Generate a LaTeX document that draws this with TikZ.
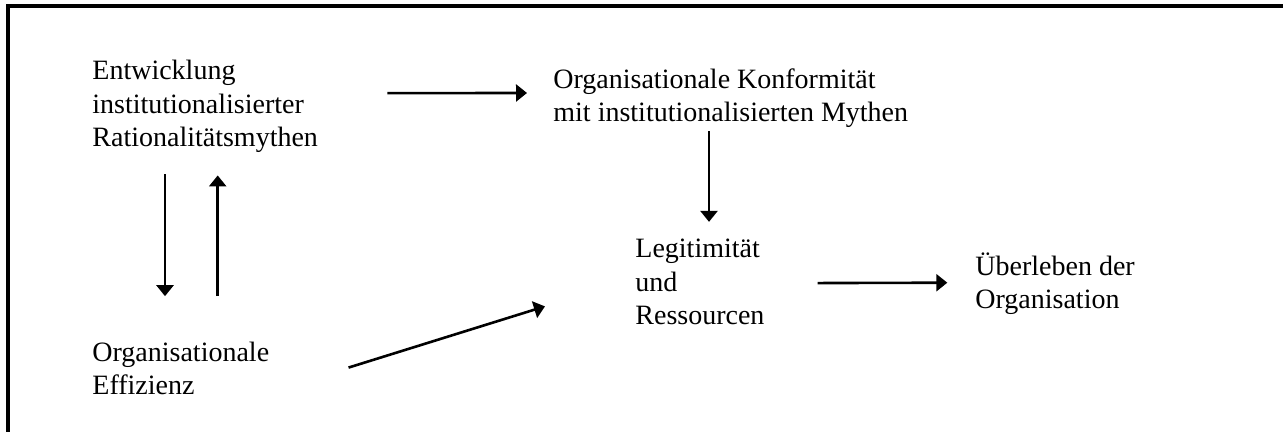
\documentclass[tikz,border=0pt]{standalone}
\usepackage{fontspec}
\setmainfont{Liberation Serif}
\usepackage{tikz}
\usetikzlibrary{arrows.meta, positioning, calc}

\begin{document}
\begin{tikzpicture}[
    x=0.5pt, y=-0.5pt,
    every node/.style={font=\fontsize{14}{16.75}\selectfont},
    blocktext/.style={inner sep=0pt, anchor=base west, align=left},
    arrow/.style={-{Triangle[length=5.5pt, width=8.5pt]}, line width=1.3pt},
    frame/.style={line width=2pt}
]
\useasboundingbox (0,0) rectangle (1283,432);
\draw[frame] (1283,6) -- (8,6) -- (8,432);

% base west = baseline of the last line
\node[blocktext] (entw) at (92,147) {Entwicklung\\institutionalisierter\\Rationalitätsmythen};
\node[blocktext] (konf) at (553,122) {Organisationale Konformität\\mit institutionalisierten Mythen};
\node[blocktext] (effiz) at (92,394.5) {Organisationale\\Effizienz};
\node[blocktext] (legit) at (635,324.5) {Legitimität\\und\\Ressourcen};
\node[blocktext] (ueber) at (975,308.5) {Überleben der\\Organisation};

\draw[arrow] ($(entw.north east)+(69,33)$) -- ($(konf.north west)+(-26,24.6)$);
\draw[arrow] ($(konf.south west)+(156,3)$) -- ($(legit.north west)+(74,-16.7)$);
\draw[arrow] ($(entw.south west)+(73,21)$) -- ($(effiz.north west)+(73,-45)$);
\draw[arrow] ($(effiz.north west)+(125.7,-45)$) -- ($(entw.south west)+(125.7,22)$);
\draw[arrow] ($(effiz.north east)+(79,26.4)$) -- ($(legit.west)+(-90,24.5)$);
\draw[arrow] ($(legit.east)+(52.7,1.2)$) -- ($(ueber.base west)+(-27.7,-25.8)$);

\end{tikzpicture}
\end{document}
